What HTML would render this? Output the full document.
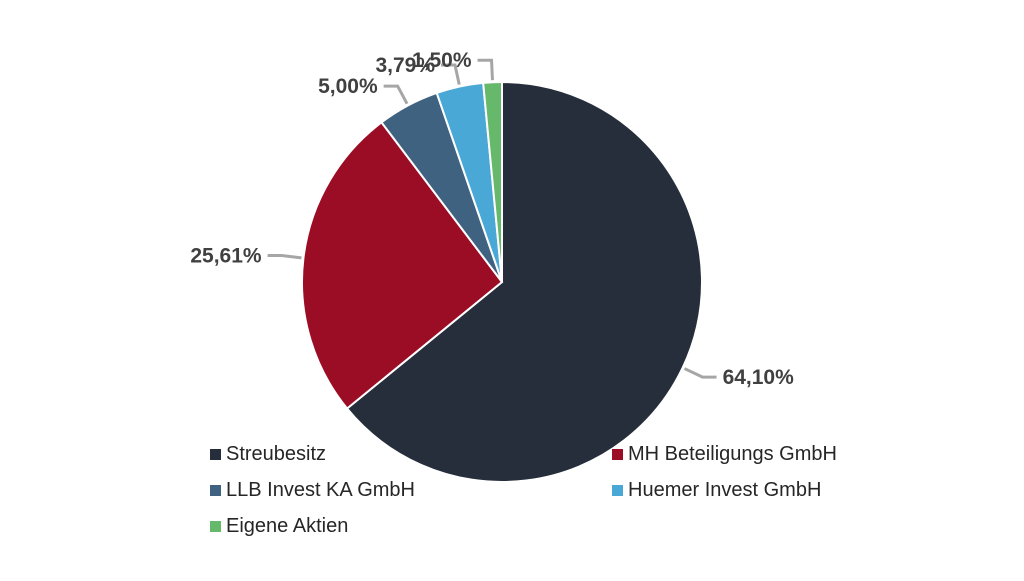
<!DOCTYPE html>
<html><head><meta charset="utf-8"><style>
body{margin:0;background:#fff;width:1024px;height:576px;overflow:hidden;font-family:"Liberation Sans",sans-serif}
</style></head><body>
<svg width="1024" height="576">
<g id="slices"></g><g id="labels"></g><g id="legend"></g>
</svg>
<script>
const categories=["Streubesitz","MH Beteiligungs GmbH","LLB Invest KA GmbH","Huemer Invest GmbH","Eigene Aktien"];
const values=[64.10,25.61,5.00,3.79,1.50];
const valueLabels=["64,10%","25,61%","5,00%","3,79%","1,50%"];
const colors=["#252e3a","#9b0d25","#3f6280","#4aa8d6","#66b86a"];
const NS="http://www.w3.org/2000/svg";
const cx=502,cy=282,r=200;
const total=values.reduce((a,b)=>a+b,0);
function pt(a,rad){return [cx+rad*Math.sin(a),cy-rad*Math.cos(a)];}
function mk(t,attrs,parent){const e=document.createElementNS(NS,t);for(const k in attrs)e.setAttribute(k,attrs[k]);parent.appendChild(e);return e;}
let acc=0;
const gs=document.getElementById('slices'),gl=document.getElementById('labels'),gg=document.getElementById('legend');
values.forEach((v,i)=>{
 const a0=acc/total*2*Math.PI;acc+=v;const a1=acc/total*2*Math.PI;
 const p0=pt(a0,r),p1=pt(a1,r);const large=(a1-a0)>Math.PI?1:0;
 const p=mk('path',{d:`M${cx},${cy}L${p0[0]},${p0[1]}A${r},${r} 0 ${large} 1 ${p1[0]},${p1[1]}Z`,fill:colors[i],stroke:'#fff','stroke-width':2},gs);
 
 
 const am=(a0+a1)/2;const s=pt(am,r+2),e=pt(am,r+22);const right=Math.sin(am)>=0;
 const hx=e[0]+(right?14:-14);
 const l=mk('polyline',{points:`${s[0]},${s[1]} ${e[0]},${e[1]} ${hx},${e[1]}`,fill:'none',stroke:'#a6a6a6','stroke-width':3},gl);
 
 
 const t=mk('text',{x:hx+(right?6:-6),y:e[1]+7,'text-anchor':right?'start':'end','font-size':21,'font-weight':'bold',fill:'#404040'},gl);
 t.textContent=valueLabels[i];
 
 
});
const legPos=[[210,460],[612,460],[210,496],[612,496],[210,532]];
categories.forEach((c,i)=>{
 const g=mk('g',{},gg);
 
 
 mk('rect',{x:legPos[i][0],y:legPos[i][1]-11,width:11,height:11,fill:colors[i]},g);
 const t=mk('text',{x:legPos[i][0]+16,y:legPos[i][1],'font-size':20,fill:'#262626'},g);
 t.textContent=c;
});
</script>
</body></html>
